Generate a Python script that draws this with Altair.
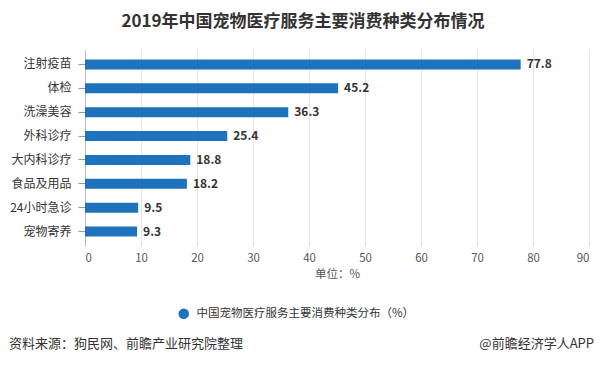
import altair as alt
import pandas as pd

categories = ["注射疫苗", "体检", "洗澡美容", "外科诊疗", "大内科诊疗", "食品及用品", "24小时急诊", "宠物寄养"]
values = [77.8, 45.2, 36.3, 25.4, 18.8, 18.2, 9.5, 9.3]
series_name = "中国宠物医疗服务主要消费种类分布（%）"
x_ticks = [0, 10, 20, 30, 40, 50, 60, 70, 80, 90]

df = pd.DataFrame({"cat": categories, "val": values, "series": [series_name] * len(categories)})

FONT = "Noto Sans CJK SC"
BLUE = "#1f73bd"

base = alt.Chart(df)

bars = base.mark_bar(size=10).encode(
    y=alt.Y("cat:N", sort=categories, title=None,
            scale=alt.Scale(paddingInner=0.5, paddingOuter=0.355),
            axis=alt.Axis(labelFont=FONT, labelFontSize=12, labelColor="#333",
                          tickColor="#999", tickSize=7, domainColor="#bbb",
                          labelPadding=7, grid=False)),
    x=alt.X("val:Q", title="单位：%",
            scale=alt.Scale(domain=[0, 90], nice=False),
            axis=alt.Axis(values=x_ticks, labelFont=FONT, labelFontSize=11.5, labelColor="#555",
                          titleFont=FONT, titleFontSize=11.5, titleColor="#555", titleFontWeight="normal",
                          titlePadding=5, grid=True, gridColor="#e3e3e3", domain=False,
                          ticks=False, labelPadding=6)),
    color=alt.Color("series:N", scale=alt.Scale(range=[BLUE]),
                    legend=alt.Legend(title=None, orient="none", legendX=93, legendY=258,
                                      symbolType="circle", symbolSize=110, labelFont=FONT,
                                      labelFontSize=11.5, labelColor="#333", symbolStrokeWidth=0,
                                      labelLimit=0, labelOffset=7)),
)

labels = base.mark_text(align="left", dx=6, font=FONT, fontSize=12, fontWeight="bold", color="#333").encode(
    y=alt.Y("cat:N", sort=categories),
    x="val:Q",
    text=alt.Text("val:Q", format=".1f"),
)

src = alt.Chart(pd.DataFrame({"t": ["资料来源：狗民网、前瞻产业研究院整理"]})).mark_text(
    align="left", font=FONT, fontSize=13, color="#333").encode(
    x=alt.value(-76), y=alt.value(294), text="t:N")

brand = alt.Chart(pd.DataFrame({"t": ["@前瞻经济学人APP"]})).mark_text(
    align="right", font=FONT, fontSize=13, color="#333").encode(
    x=alt.value(509), y=alt.value(294), text="t:N")

chart = alt.layer(bars, labels, src, brand).properties(
    width=504, height=196,
    padding={"left": 77, "top": 42, "right": 6, "bottom": 109},
    autosize=alt.AutoSizeParams(type="none"),
    title=alt.TitleParams("2019年中国宠物医疗服务主要消费种类分布情况", font=FONT, fontSize=17,
                          fontWeight="bold", color="#333", anchor="middle", offset=19, dx=-34),
).configure_view(stroke=None)

chart.save("out.html", embed_options={"renderer": "svg", "actions": False})
